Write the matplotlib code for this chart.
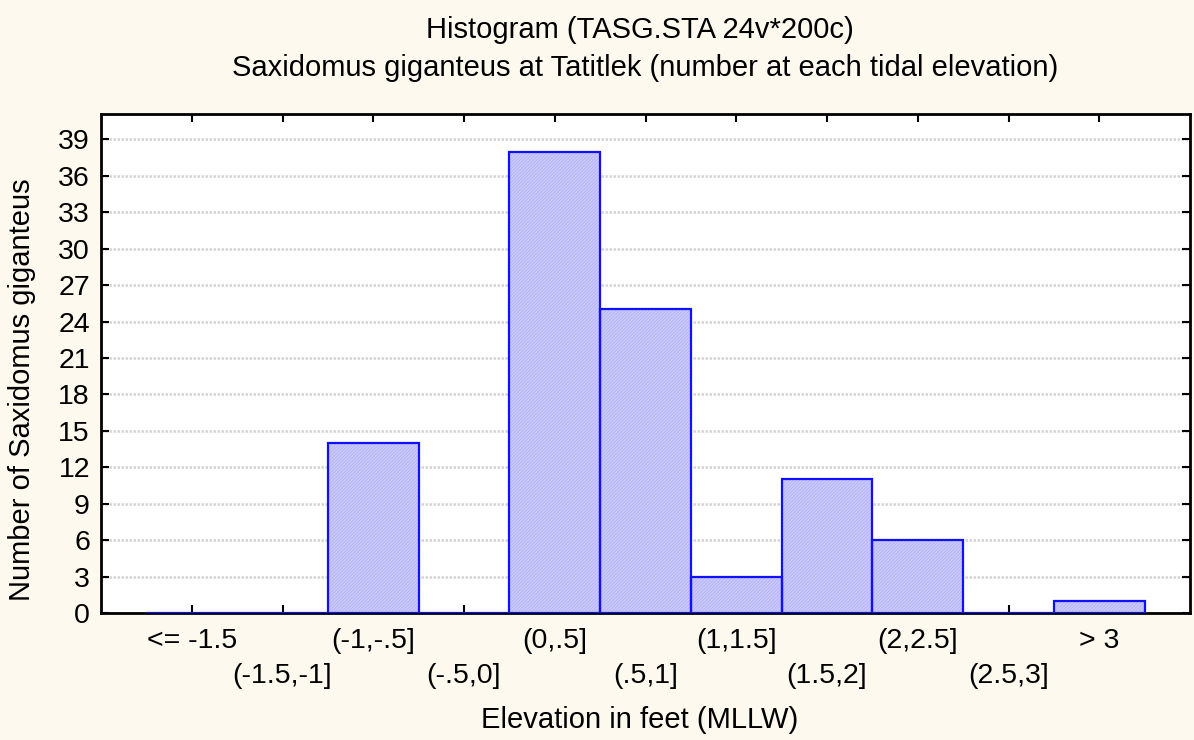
import matplotlib
matplotlib.use("Agg")
import matplotlib.pyplot as plt
import numpy as np

# ── data ─────────────────────────────────────────────────────────────
BINS = ["<= -1.5", "(-1.5,-1]", "(-1,-.5]", "(-.5,0]", "(0,.5]", "(.5,1]",
        "(1,1.5]", "(1.5,2]", "(2,2.5]", "(2.5,3]", "> 3"]
COUNTS = [0, 0, 14, 0, 38, 25, 3, 11, 6, 0, 1]
Y_TICKS = list(range(0, 40, 3))

BG = "#fdf9ef"
FS = 20.5
FS_TITLE = 21
plt.rcParams["font.family"] = ["Liberation Sans", "DejaVu Sans"]
plt.rcParams["hatch.linewidth"] = 0.5

fig = plt.figure(figsize=(11.94, 7.40), dpi=100, facecolor=BG)
ax = fig.add_axes([101 / 1194, 1 - 613 / 740, 1089 / 1194, 499 / 740])
ax.set_facecolor("white")

x = np.arange(len(BINS))
# fill with a light hatch (hatch colour follows edgecolor), then the blue outline on top
ax.bar(x, COUNTS, width=1.0, color="#cacafc", edgecolor="#aeaef0",
       linewidth=0, hatch="//////////", zorder=3)
ax.bar(x, COUNTS, width=1.0, fill=False, edgecolor="#1010ff",
       linewidth=1.6, zorder=4)

ax.set_xlim(-1.0, 11.0)
ax.set_ylim(0, 41.1)
ax.set_yticks(Y_TICKS)
ax.yaxis.grid(True, color="#d4d4d4", linestyle=(0, (1, 0.6)), linewidth=1.8, zorder=0)

# alternate labels on two rows: even ones on major ticks, odd ones on minor ticks
ax.set_xticks(x[::2])
ax.set_xticklabels(BINS[::2])
ax.set_xticks(x[1::2], minor=True)
ax.set_xticklabels(BINS[1::2], minor=True)

ax.tick_params(axis="both", which="both", direction="in", length=6, width=1.5,
               top=True, right=True, labelsize=FS, colors="black")
ax.tick_params(axis="x", which="major", pad=11)
ax.tick_params(axis="x", which="minor", pad=36)
ax.tick_params(axis="y", pad=8)

for s in ax.spines.values():
    s.set_linewidth(2)

fig.text(640 / 1194, 1 - 30 / 740, "Histogram (TASG.STA 24v*200c)",
         ha="center", va="center", fontsize=FS_TITLE)
fig.text(645 / 1194, 1 - 68 / 740,
         "Saxidomus giganteus at Tatitlek (number at each tidal elevation)",
         ha="center", va="center", fontsize=FS_TITLE)
fig.text(640 / 1194, 1 - 720 / 740, "Elevation in feet (MLLW)",
         ha="center", va="center", fontsize=FS_TITLE)
fig.text(22 / 1194, 1 - 390 / 740, "Number of Saxidomus giganteus",
         ha="center", va="center", rotation=90, fontsize=FS_TITLE)

fig.savefig("out.png", dpi=100, facecolor=BG)
